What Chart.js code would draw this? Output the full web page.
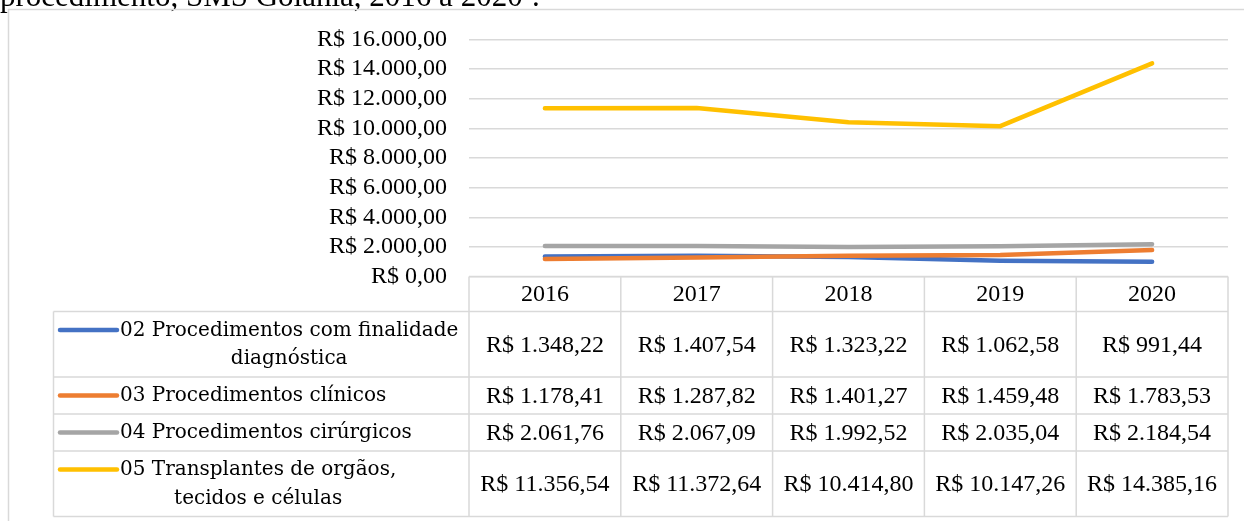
<!DOCTYPE html>
<html>
<head>
<meta charset="utf-8">
<script src="https://cdn.jsdelivr.net/npm/chart.js@4.4.0/dist/chart.umd.min.js"></script>
<style>
  html, body { margin: 0; padding: 0; background: #fff; }
  canvas { display: block; }
</style>
</head>
<body>
<canvas id="chart" width="1244" height="521"></canvas>
<script>
const years = ['2016', '2017', '2018', '2019', '2020'];
const seriesNames = [
    ['02 Procedimentos com finalidade', 'diagnóstica'],
    ['03 Procedimentos clínicos'],
    ['04 Procedimentos cirúrgicos'],
    ['05 Transplantes de orgãos,', 'tecidos e células']
];
const diagnosticos = [1348.22, 1407.54, 1323.22, 1062.58, 991.44];
const clinicos = [1178.41, 1287.82, 1401.27, 1459.48, 1783.53];
const cirurgicos = [2061.76, 2067.09, 1992.52, 2035.04, 2184.54];
const transplantes = [11356.54, 11372.64, 10414.80, 10147.26, 14385.16];
const seriesColors = ['#4472C4', '#ED7D31', '#A5A5A5', '#FFC000'];
const yMin = 0, yMax = 16000, yStep = 2000;
const titleText = 'procedimento, SMS Goiânia, 2016 a 2020¹.';

const allSeries = [diagnosticos, clinicos, cirurgicos, transplantes];

function brl(v) {
    const parts = v.toFixed(2).split('.');
    const intPart = parts[0].replace(/\B(?=(\d{3})+(?!\d))/g, '.');
    return 'R$ ' + intPart + ',' + parts[1];
}

const GRID = '#d9d9d9';
const SERIF = '"Liberation Serif", serif';
const LEGEND_FONT = '20px "DejaVu Serif", serif';

// Draws the title remnant, the outer frame and the data table under the plot
const tablePlugin = {
    id: 'dataTable',
    beforeDraw(chart) {
        const ctx = chart.ctx;
        ctx.save();
        ctx.fillStyle = '#fff';
        ctx.fillRect(0, 0, chart.width, chart.height);
        ctx.restore();
    },
    afterDraw(chart) {
        const ctx = chart.ctx;
        const area = chart.chartArea;
        const xs = chart.scales.x;
        const colW = (area.right - area.left) / years.length;
        const tableLeft = 53.5;
        const top = area.bottom;
        const headerH = 35;
        const rowH = seriesNames.map(n => 37 + (n.length - 1) * 28.5);

        ctx.save();

        // title (cut at the top of the picture)
        ctx.fillStyle = '#000';
        ctx.font = '31px ' + SERIF;
        ctx.textAlign = 'left';
        ctx.textBaseline = 'alphabetic';
        ctx.fillText(titleText, 0, 5.5);

        // outer frame
        ctx.strokeStyle = GRID;
        ctx.lineWidth = 1.5;
        ctx.strokeRect(8.5, 9.5, chart.width + 10, chart.height + 10);

        // table grid
        let bottom = top + headerH + rowH.reduce((a, b) => a + b, 0);
        ctx.beginPath();
        ctx.moveTo(area.left, top);
        ctx.lineTo(area.right, top);
        let y = top + headerH;
        ctx.moveTo(tableLeft, y);
        ctx.lineTo(area.right, y);
        rowH.forEach(h => {
            y += h;
            ctx.moveTo(tableLeft, y);
            ctx.lineTo(area.right, y);
        });
        for (let i = 0; i <= years.length; i++) {
            const x = area.left + i * colW;
            ctx.moveTo(x, top);
            ctx.lineTo(x, bottom);
        }
        ctx.moveTo(tableLeft, top + headerH);
        ctx.lineTo(tableLeft, bottom);
        ctx.stroke();

        // header years
        ctx.fillStyle = '#000';
        ctx.font = '24px ' + SERIF;
        ctx.textAlign = 'center';
        ctx.textBaseline = 'middle';
        years.forEach((yr, i) => {
            ctx.fillText(yr, xs.getPixelForValue(i), top + headerH / 2 + 1);
        });

        // rows
        let rowTop = top + headerH;
        allSeries.forEach((vals, s) => {
            const h = rowH[s];
            // legend key
            ctx.strokeStyle = seriesColors[s];
            ctx.lineWidth = 4.5;
            ctx.lineCap = 'round';
            ctx.beginPath();
            ctx.moveTo(60, rowTop + 18.5);
            ctx.lineTo(117, rowTop + 18.5);
            ctx.stroke();

            ctx.font = LEGEND_FONT;
            ctx.fillStyle = '#000';
            const lines = seriesNames[s];
            const maxW = Math.max(...lines.map(l => ctx.measureText(l).width));
            lines.forEach((l, k) => {
                ctx.fillText(l, 120 + maxW / 2, rowTop + 19 + k * 28.5);
            });

            // values
            ctx.font = '24px ' + SERIF;
            vals.forEach((v, i) => {
                ctx.fillText(brl(v), xs.getPixelForValue(i), rowTop + h / 2 + 1);
            });
            rowTop += h;
        });

        ctx.restore();
    }
};

const datasets = allSeries.map((vals, i) => ({
    label: seriesNames[i].join(' '),
    data: vals,
    borderColor: seriesColors[i],
    backgroundColor: seriesColors[i],
    borderWidth: 4.5,
    borderCapStyle: 'round',
    borderJoinStyle: 'round',
    pointRadius: 0,
    tension: 0,
    fill: false,
    order: allSeries.length - 1 - i
}));

new Chart(document.getElementById('chart'), {
    type: 'line',
    data: { labels: years, datasets: datasets },
    plugins: [tablePlugin],
    options: {
        responsive: false,
        animation: false,
        layout: { padding: { top: 39.5, right: 16, bottom: 244.5, left: 0 } },
        plugins: {
            legend: { display: false },
            tooltip: { enabled: false }
        },
        scales: {
            x: {
                display: false,
                offset: true
            },
            y: {
                min: yMin,
                max: yMax,
                afterFit: s => { s.width = 469; },
                border: { display: false },
                grid: { color: GRID, lineWidth: 1.5, drawTicks: false },
                ticks: {
                    stepSize: yStep,
                    autoSkip: false,
                    padding: 22,
                    color: '#000',
                    font: { family: 'Liberation Serif', size: 24 },
                    callback: v => brl(v)
                }
            }
        }
    }
});
</script>
</body>
</html>
